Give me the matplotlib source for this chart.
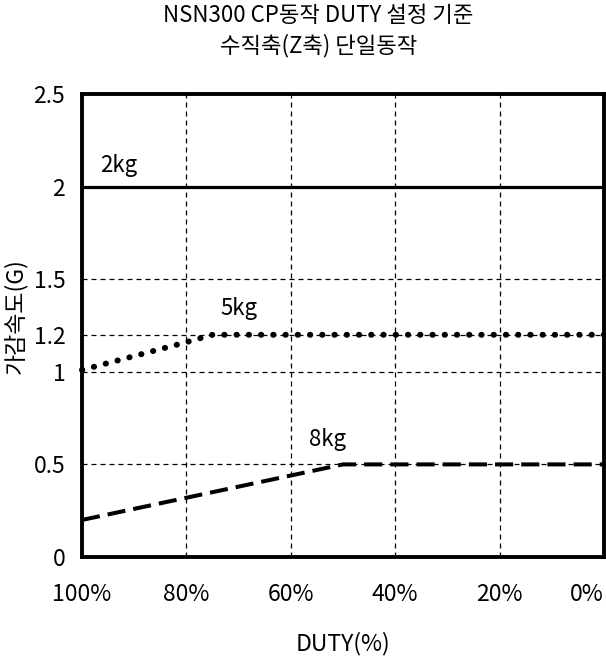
import matplotlib
matplotlib.use("Agg")
import matplotlib.pyplot as plt

plt.rcParams['font.family'] = ['Noto Sans CJK KR', 'DejaVu Sans']

duty_2kg = [100, 0]
acc_2kg = [2.0, 2.0]
duty_5kg = [100, 80, 75, 0]
acc_5kg = [1.01, 1.16, 1.2, 1.2]
duty_8kg = [100, 80, 60, 50, 0]
acc_8kg = [0.2, 0.32, 0.44, 0.5, 0.5]

x_ticks = [100, 80, 60, 40, 20, 0]
x_labels = ["100%", "80%", "60%", "40%", "20%", "0%"]
y_ticks = [0, 0.5, 1, 1.2, 1.5, 2, 2.5]
y_labels = ["0", "0.5", "1", "1.2", "1.5", "2", "2.5"]

fig = plt.figure(figsize=(6.06, 6.65), dpi=100)
ax = fig.add_axes([0.1353, 0.1624, 0.8614, 0.6962])

ax.plot(duty_2kg, acc_2kg, color="black", lw=2.3, solid_capstyle="butt")
ax.plot(duty_5kg, acc_5kg, color="black", lw=4.3, linestyle=(0, (0.05, 2.0)),
        dash_capstyle="round", clip_on=False, zorder=5)
ax.plot(duty_8kg, acc_8kg, color="black", lw=2.9, linestyle=(0, (4.5, 2.0)),
        dash_capstyle="butt")

ax.text(93, 2.08, "2kg", fontsize=16, ha="center", va="baseline")
ax.text(70, 1.305, "5kg", fontsize=16, ha="center", va="baseline")
ax.text(53, 0.60, "8kg", fontsize=16, ha="center", va="baseline")

ax.set_xlim(100, 0)
ax.set_ylim(0, 2.5)
ax.set_xticks(x_ticks)
ax.set_xticklabels(x_labels)
ax.set_yticks(y_ticks)
ax.set_yticklabels(y_labels)
ax.tick_params(length=0, labelsize=16.5)
ax.tick_params(axis="y", pad=12)
ax.tick_params(axis="x", pad=19)
ax.get_xticklabels()[-1].set_ha("right")

for v in x_ticks[1:-1]:
    ax.axvline(v, color="black", lw=0.9, linestyle=(0, (4, 3.2)), zorder=0)
for v in y_ticks[1:-1]:
    ax.axhline(v, color="black", lw=0.9, linestyle=(0, (4, 3.2)), zorder=0)

for s in ax.spines.values():
    s.set_linewidth(2.8)

ax.set_xlabel("DUTY(%)", fontsize=16.5, labelpad=18)
ax.set_ylabel("가감속도(G)", fontsize=16.5, va="center")
ax.yaxis.set_label_coords(-0.128, 0.52)

fig.text(0.525, 0.977, "NSN300 CP동작 DUTY 설정 기준", fontsize=16,
         ha="center", va="center")
fig.text(0.525, 0.932, "수직축(Z축) 단일동작", fontsize=16,
         ha="center", va="center")

fig.savefig("out.png", dpi=100)
